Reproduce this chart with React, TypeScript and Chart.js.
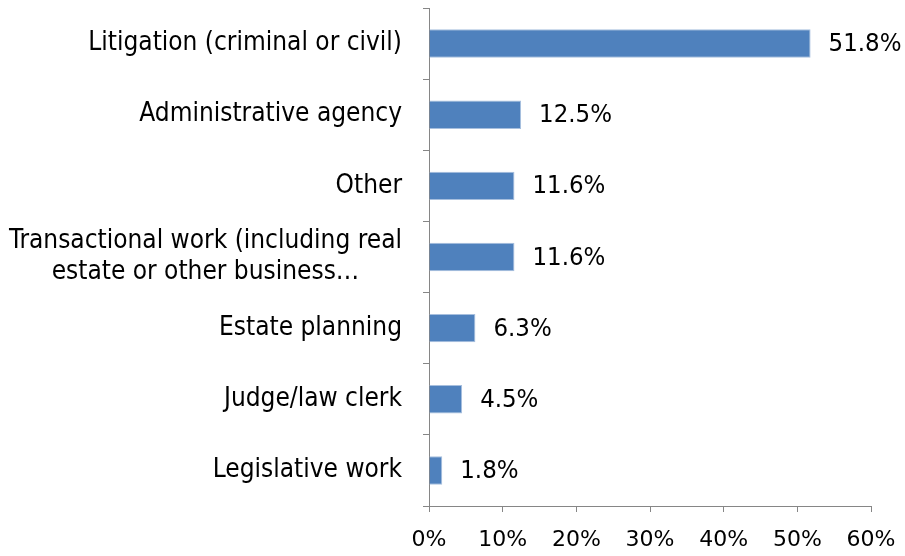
import React, { useEffect, useRef } from "react";
import { Chart, registerables } from "chart.js";

Chart.register(...registerables);

const categories: (string | string[])[] = [
  "Litigation (criminal or civil)",
  "Administrative agency",
  "Other",
  ["Transactional work (including real", "estate or other business…"],
  "Estate planning",
  "Judge/law clerk",
  "Legislative work",
];
const values: number[] = [51.8, 12.5, 11.6, 11.6, 6.3, 4.5, 1.8];
const xTicks: number[] = [0, 10, 20, 30, 40, 50, 60];

const FONT = "'DejaVu Sans Condensed', 'DejaVu Sans', sans-serif";
const TICK_FONT = "'DejaVu Sans', sans-serif";
const CAT_SIZE = 26;
const VAL_SIZE = 25.5;
const TICK_SIZE = 22;
const AXIS_COLOR = "#868686";

const labelPlugin = {
  id: "customLabels",
  afterDraw(chart: any) {
    const ctx = chart.ctx;
    const yScale = chart.scales.y;
    const meta = chart.getDatasetMeta(0);
    ctx.save();
    ctx.font = `${CAT_SIZE}px ${FONT}`;
    ctx.fillStyle = "#000";
    ctx.textBaseline = "middle";
    const right = chart.chartArea.left - 27;
    const lineH = 31;
    categories.forEach((c, i) => {
      const lines = Array.isArray(c) ? c : [c];
      const yc = yScale.getPixelForValue(i);
      const widths = lines.map((l) => ctx.measureText(l).width);
      const blockW = Math.max(...widths);
      const cx = right - blockW / 2;
      ctx.textAlign = "center";
      lines.forEach((l, j) => {
        const y = yc + (j - (lines.length - 1) / 2) * lineH;
        ctx.fillText(l, cx, y);
      });
    });
    ctx.font = `${VAL_SIZE}px ${FONT}`;
    ctx.textAlign = "left";
    meta.data.forEach((bar: any, i: number) => {
      ctx.fillText(values[i].toFixed(1) + "%", bar.x + 18, bar.y + 1);
    });
    ctx.restore();
  },
};

export default function App() {
  const ref = useRef<HTMLCanvasElement>(null);
  useEffect(() => {
    document.body.style.margin = "0";
    const chart = new Chart(ref.current!, {
      type: "bar",
      data: {
        labels: categories.map((c) => (Array.isArray(c) ? c.join(" ") : c)),
        datasets: [
          {
            data: values,
            backgroundColor: "#4F81BD",
            borderColor: "#A7BFDE",
            borderWidth: 1,
            barPercentage: 0.5,
            categoryPercentage: 0.8,
          },
        ],
      },
      options: {
        indexAxis: "y",
        animation: false,
        responsive: false,
        maintainAspectRatio: false,
        layout: { padding: { top: 8, right: 34, left: 0, bottom: 0 } },
        plugins: { legend: { display: false }, tooltip: { enabled: false } },
        scales: {
          x: {
            min: 0,
            max: 60,
            afterBuildTicks: (s: any) => {
              s.ticks = xTicks.map((v) => ({ value: v }));
            },
            afterFit: (s: any) => {
              s.height = 50;
              s.paddingRight = 0;
              s.paddingLeft = 0;
            },
            ticks: {
              callback: (v: any) => v + "%",
              color: "#000",
              font: { family: TICK_FONT, size: TICK_SIZE },
              padding: 15,
              maxRotation: 0,
            },
            grid: {
              drawOnChartArea: false,
              drawTicks: true,
              tickLength: 6,
              color: AXIS_COLOR,
            },
            border: { color: AXIS_COLOR, width: 1 },
          },
          y: {
            afterFit: (s: any) => {
              s.width = 429;
              s.paddingTop = 0;
              s.paddingBottom = 0;
            },
            ticks: { display: false },
            grid: {
              offset: true,
              drawOnChartArea: false,
              drawTicks: true,
              tickLength: 6,
              color: AXIS_COLOR,
            },
            border: { color: AXIS_COLOR, width: 1 },
          },
        },
      },
      plugins: [labelPlugin],
    });
    return () => chart.destroy();
  }, []);
  return (
    <div style={{ width: 905, height: 556 }}>
      <canvas ref={ref} width={905} height={556} style={{ display: "block" }} />
    </div>
  );
}
